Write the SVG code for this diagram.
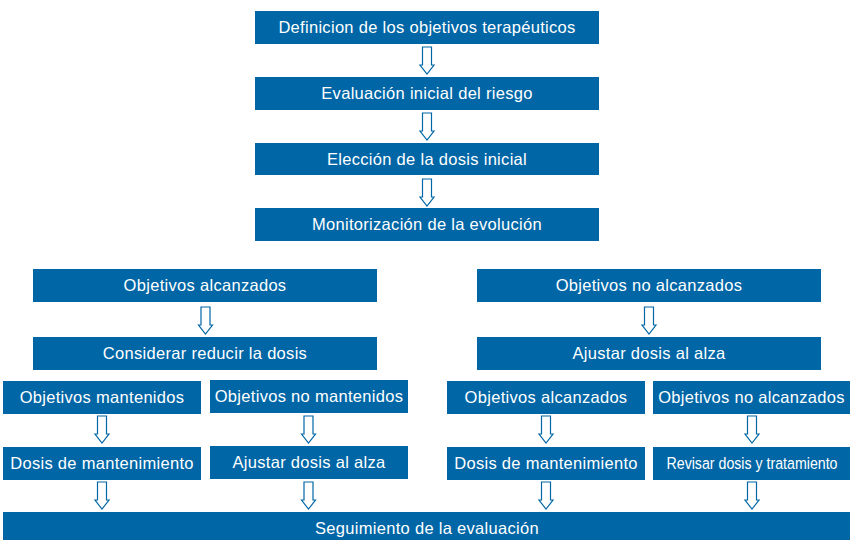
<svg xmlns="http://www.w3.org/2000/svg" xmlns:xlink="http://www.w3.org/1999/xlink" width="850" height="540" viewBox="0 0 850 540">
<style>
.box{fill:#0066a6}
.t{font-family:"Liberation Sans",Arial,Helvetica,sans-serif;font-size:16.5px;letter-spacing:0.3px;fill:#ffffff;text-anchor:middle}
.arr{fill:#ffffff;stroke:#0066a6;stroke-width:1.2;stroke-linejoin:miter}
</style>
<defs>
<path id="arrow" class="arr" d="M-4.5,0 H4.5 V18 H7 L0,27 L-7,18 H-4.5 Z"/>
</defs>
<rect width="850" height="540" fill="#ffffff"/>
<g id="n1"><rect class="box" x="255" y="11" width="344" height="33"/><text class="t" x="427" y="33">Definicion de los objetivos terapéuticos</text></g>
<g id="n2"><rect class="box" x="255" y="77" width="344" height="33"/><text class="t" x="427" y="99">Evaluación inicial del riesgo</text></g>
<g id="n3"><rect class="box" x="255" y="143" width="344" height="32"/><text class="t" x="427" y="165">Elección de la dosis inicial</text></g>
<g id="n4"><rect class="box" x="255" y="208" width="344" height="33"/><text class="t" x="427" y="230">Monitorización de la evolución</text></g>
<g id="n5"><rect class="box" x="33" y="269" width="344" height="33"/><text class="t" x="205" y="291">Objetivos alcanzados</text></g>
<g id="n6"><rect class="box" x="477" y="269" width="344" height="33"/><text class="t" x="649" y="291">Objetivos no alcanzados</text></g>
<g id="n7"><rect class="box" x="33" y="337" width="344" height="33"/><text class="t" x="205" y="359">Considerar reducir la dosis</text></g>
<g id="n8"><rect class="box" x="477" y="337" width="344" height="33"/><text class="t" x="649" y="359">Ajustar dosis al alza</text></g>
<g id="n9"><rect class="box" x="3" y="381" width="198" height="33"/><text class="t" x="102" y="403">Objetivos mantenidos</text></g>
<g id="n10"><rect class="box" x="210" y="380" width="198" height="33"/><text class="t" x="309" y="402">Objetivos no mantenidos</text></g>
<g id="n11"><rect class="box" x="447" y="381" width="198" height="33"/><text class="t" x="546" y="403">Objetivos alcanzados</text></g>
<g id="n12"><rect class="box" x="653" y="381" width="197" height="33"/><text class="t" x="751.5" y="403">Objetivos no alcanzados</text></g>
<g id="n13"><rect class="box" x="3" y="447" width="198" height="33"/><text class="t" x="102" y="469">Dosis de mantenimiento</text></g>
<g id="n14"><rect class="box" x="210" y="446" width="198" height="33"/><text class="t" x="309" y="468">Ajustar dosis al alza</text></g>
<g id="n15"><rect class="box" x="447" y="447" width="198" height="33"/><text class="t" x="546" y="469">Dosis de mantenimiento</text></g>
<g id="n16"><rect class="box" x="653" y="447" width="197" height="33"/><text class="t" x="0" y="0" style="letter-spacing:0" transform="translate(752,469) scale(0.86,1)">Revisar dosis y tratamiento</text></g>
<g id="n17"><rect class="box" x="3" y="512" width="847" height="34"/><text class="t" x="427" y="534">Seguimiento de la evaluación</text></g>
<g id="connectors">
<use xlink:href="#arrow" x="427" y="47"/>
<use xlink:href="#arrow" x="427" y="113"/>
<use xlink:href="#arrow" x="427" y="179"/>
<use xlink:href="#arrow" x="205.5" y="307"/>
<use xlink:href="#arrow" x="649" y="307"/>
<use xlink:href="#arrow" x="102" y="416"/>
<use xlink:href="#arrow" x="308.5" y="416"/>
<use xlink:href="#arrow" x="546" y="416"/>
<use xlink:href="#arrow" x="752" y="416"/>
<use xlink:href="#arrow" x="102" y="482"/>
<use xlink:href="#arrow" x="308.5" y="482"/>
<use xlink:href="#arrow" x="546" y="482"/>
<use xlink:href="#arrow" x="752" y="482"/>
</g>
</svg>
